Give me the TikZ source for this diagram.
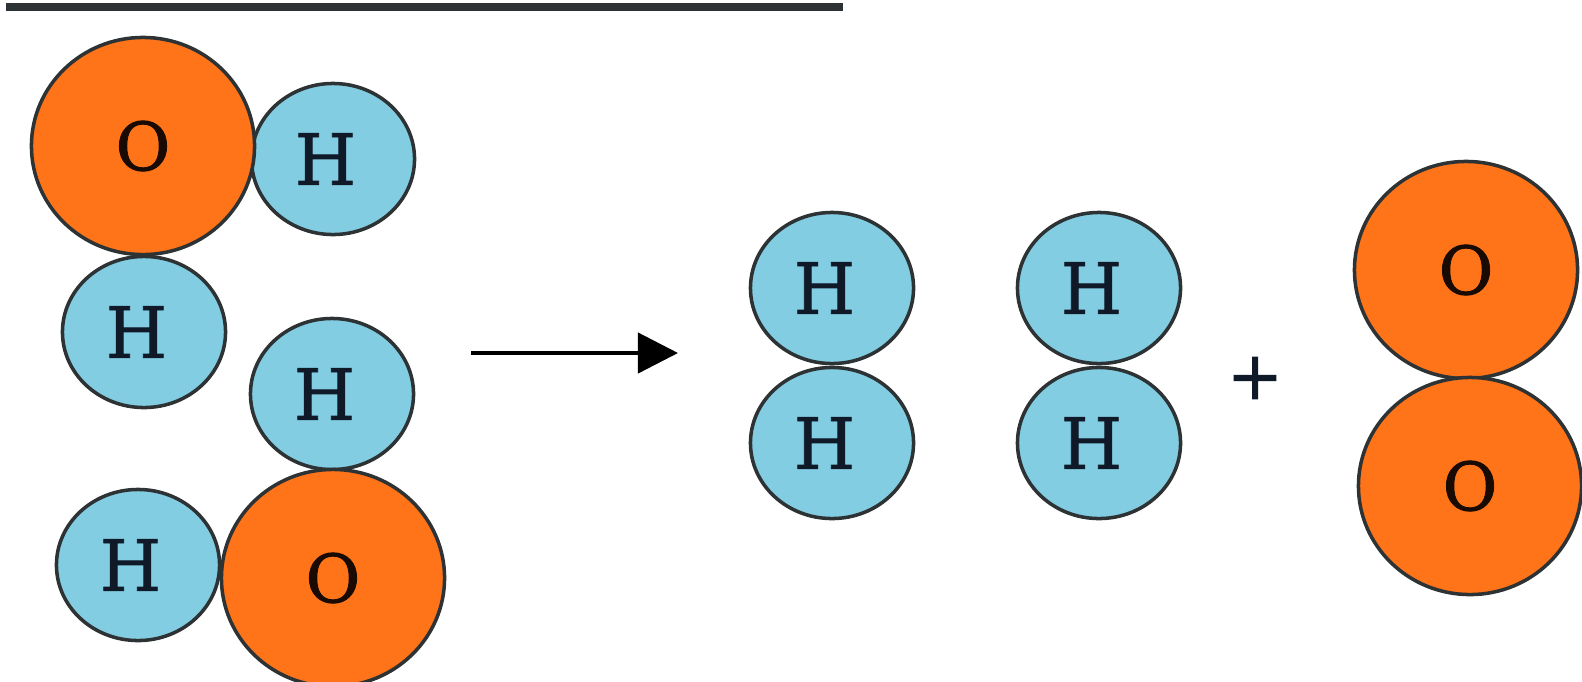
\documentclass[tikz,border=0pt]{standalone}
\usepackage{fontspec}
\setmainfont[FakeBold=1.2]{DejaVu Serif}
\usepackage{tikz}
\usetikzlibrary{arrows.meta, shapes.geometric}

\definecolor{oxygen}{RGB}{255,115,25}
\definecolor{hydrogen}{RGB}{130,205,225}
\definecolor{outline}{RGB}{45,50,52}
\definecolor{ink}{RGB}{15,25,40}

\begin{document}
\begin{tikzpicture}[
    x=0.01cm, y=-0.01cm,
    hatom/.style={ellipse, draw=outline, line width=1pt, fill=hydrogen, minimum width=1.63cm, minimum height=1.51cm, inner sep=0pt, text=ink, font=\fontsize{20}{20}\selectfont, execute at end node=\kern0.15cm},
    oatom/.style={ellipse, draw=outline, line width=1pt, fill=oxygen, minimum width=2.23cm, minimum height=2.17cm, inner sep=0pt, text=black!90!oxygen, font=\fontsize{19}{19}\selectfont},
    arrow/.style={-{Triangle[length=0.4cm, width=0.4cm]}, line width=1.2pt}
]
    \useasboundingbox (0, 0) rectangle (1582, 681);

    % === Top rule ===
    \coordinate (ruleL) at (6, 7);
    \coordinate (ruleR) at (843, 7);
    \draw[line width=2.2pt, color=outline] (ruleL) -- (ruleR);

    % === Left side ===
    \node[hatom] (h1) at (333, 159) {H};
    \node[oatom] (o1) at (143, 146) {O};
    \node[hatom] (h2) at (144, 332) {H};
    \node[hatom] (h3) at (332, 394) {H};
    \node[hatom] (h4) at (138, 565) {H};
    \node[oatom] (o2) at (333, 578) {O};

    % === Reaction arrow ===
    \coordinate (arrL) at (471, 353);
    \coordinate (arrR) at (678, 353);
    \draw[arrow] (arrL) -- (arrR);

    % === Right side ===
    \node[hatom] (h5) at (832, 288) {H};
    \node[hatom] (h6) at (832, 443) {H};
    \node[hatom] (h7) at (1099, 288) {H};
    \node[hatom] (h8) at (1099, 443) {H};
    \node[font=\fontsize{19}{19}\selectfont, text=ink] (plus) at (1255, 378) {+};
    \node[oatom] (o3) at (1466, 270) {O};
    \node[oatom] (o4) at (1470, 486) {O};

\end{tikzpicture}
\end{document}
